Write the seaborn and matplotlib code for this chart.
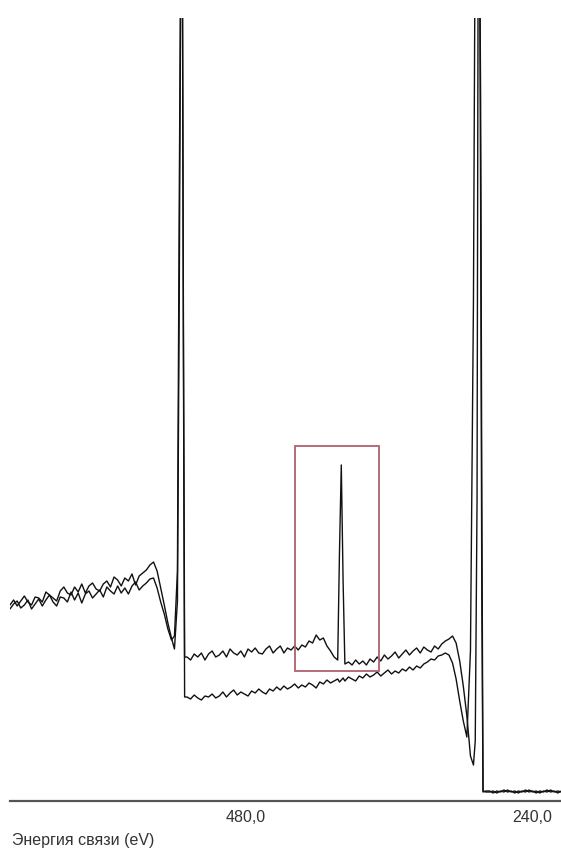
import matplotlib
matplotlib.use("Agg")
import matplotlib.pyplot as plt
import seaborn as sns
import pandas as pd
from matplotlib.patches import Rectangle

# ---------------- data (binding energy in eV, intensity in a.u.) ----------------
energy_ev = [
    677, 674, 671, 668, 665, 662, 659, 656, 653, 650, 647, 644, 641, 638, 635, 632,
    629, 626, 623, 620, 617, 614, 611, 608, 605, 602, 599, 596, 593, 590, 587, 584,
    581, 578, 575, 572, 569, 566, 563, 560, 557, 554, 551, 548, 545, 542, 539.5,
    537, 535.5, 534, 533, 532, 531,
    529, 526, 523, 520, 517, 514, 511, 508, 505, 502, 499, 496, 493, 490, 487, 484,
    481, 478, 475, 472, 469, 466, 463, 460, 457, 454, 451, 448, 445, 442, 439, 436,
    433, 430, 427, 424, 421, 418, 415, 412, 409, 406, 403, 401.5, 400, 398.5, 397,
    394, 391, 388, 385, 382, 379, 376, 373, 370, 367, 364, 361, 358, 355, 352, 349,
    346, 343, 340, 337, 334, 331, 328, 325, 322, 319, 316, 313, 310, 307, 304, 301,
    298, 295, 292, 289.5, 288, 286.5, 285.5, 284.5, 283.5, 282.5, 281.5, 279,
    276, 273, 270, 267, 264, 261, 258, 255, 252, 249, 246, 243, 240, 237, 234, 231,
    228, 225, 222, 219, 216,
]

spectrum_a = [
    196, 201, 195, 200, 205, 199, 196, 204, 203, 199, 209, 206, 203, 200, 210, 214,
    208, 206, 214, 209, 217, 208, 215, 218, 212, 210, 217, 220, 214, 224, 221, 215,
    223, 220, 227, 216, 225, 228, 231, 236, 239, 230, 213, 196, 178, 163, 152,
    200, 500, 900, 900, 480, 144,
    144, 141, 147, 144, 148, 141, 147, 150, 144, 146, 150, 144, 152, 148, 146, 150,
    144, 152, 149, 153, 148, 147, 152, 155, 148, 152, 155, 148, 153, 151, 155,
    151, 156, 154, 160, 158, 166, 161, 163, 155, 150, 144, 141, 250, 336, 220, 137,
    139, 136, 141, 137, 140, 136, 142, 139, 144, 140, 146, 142, 145, 149, 143,
    147, 151, 146, 150, 153, 148, 154, 151, 149, 155, 152, 157, 160, 162, 165, 158,
    140, 115, 85, 45, 36, 60, 300, 900, 900, 600, 200, 10, 9,
    9, 10, 8, 10, 9, 11, 9, 10, 8, 10, 9, 11, 9, 10, 8, 10,
    9, 11, 9, 10, 9,
]

spectrum_b = [
    192, 197, 200, 193, 196, 201, 192, 197, 202, 195, 201, 206, 199, 195, 204, 203,
    199, 209, 201, 208, 198, 207, 210, 203, 207, 211, 204, 214, 210, 207, 215, 208,
    213, 207, 215, 219, 211, 215, 218, 222, 223, 213, 199, 187, 172, 161, 165,
    230, 600, 900, 900, 440, 104,
    104, 102, 106, 103, 101, 105, 104, 107, 103, 105, 109, 104, 108, 111, 106, 109,
    107, 105, 110, 108, 112, 109, 107, 112, 110, 114, 111, 115, 112, 114, 117,
    113, 116, 114, 118, 116, 113, 119, 117, 121, 118, 120, 122, 119, 121, 123, 120,
    124, 122, 120, 125, 123, 127, 124, 126, 129, 125, 128, 131, 127, 130, 128,
    132, 130, 134, 131, 135, 133, 137, 139, 142, 141, 145, 146, 148, 146, 138, 122,
    100, 80, 64, 150, 500, 900, 900, 900, 900, 700, 300, 9, 10,
    10, 8, 10, 9, 11, 9, 10, 8, 10, 9, 11, 9, 10, 8, 10, 9,
    11, 9, 10, 8, 10,
]

tick_values = [480, 240]
tick_labels = ["480,0", "240,0"]
x_label = "Энергия связи (eV)"

# highlighted region (N 1s) in data units
box_energy = [438.7, 368.5]
box_intensity = [130, 355]

# ---------------- figure ----------------
sns.set_theme(style="white")
plt.rcParams["font.family"] = ["Liberation Sans", "DejaVu Sans"]

W, H = 561, 859
fig = plt.figure(figsize=(W / 100, H / 100), dpi=100)
ax = fig.add_axes([10 / W, (H - 801) / H, (W - 10) / W, (801 - 18) / H])

df = pd.DataFrame({"energy": energy_ev, "a": spectrum_a, "b": spectrum_b})
sns.lineplot(data=df, x="energy", y="b", sort=False, estimator=None,
             color="#111111", linewidth=1.0, ax=ax)
sns.lineplot(data=df, x="energy", y="a", sort=False, estimator=None,
             color="#111111", linewidth=1.0, ax=ax)

ax.add_patch(Rectangle((box_energy[0], box_intensity[0]),
                       box_energy[1] - box_energy[0],
                       box_intensity[1] - box_intensity[0],
                       fill=False, edgecolor="#b0606e", linewidth=1.3, zorder=3))

ax.set_xlim(677, 216.3)
ax.set_ylim(0, 783)

for s in ["left", "top", "right"]:
    ax.spines[s].set_visible(False)
ax.spines["bottom"].set_color("#555555")
ax.spines["bottom"].set_linewidth(1.6)

ax.set_yticks([])
ax.set_xticks(tick_values)
ax.set_xticklabels(tick_labels)
ax.tick_params(axis="x", direction="inout", length=9, width=1.2, color="#444444",
               labelsize=11.5, labelcolor="#333333", pad=2)
ax.set_xlabel("")
ax.set_ylabel("")

fig.text(12 / W, 1 - 841 / H, x_label, ha="left", va="center",
         fontsize=11.5, color="#333333")

fig.savefig("out.png", dpi=100)
